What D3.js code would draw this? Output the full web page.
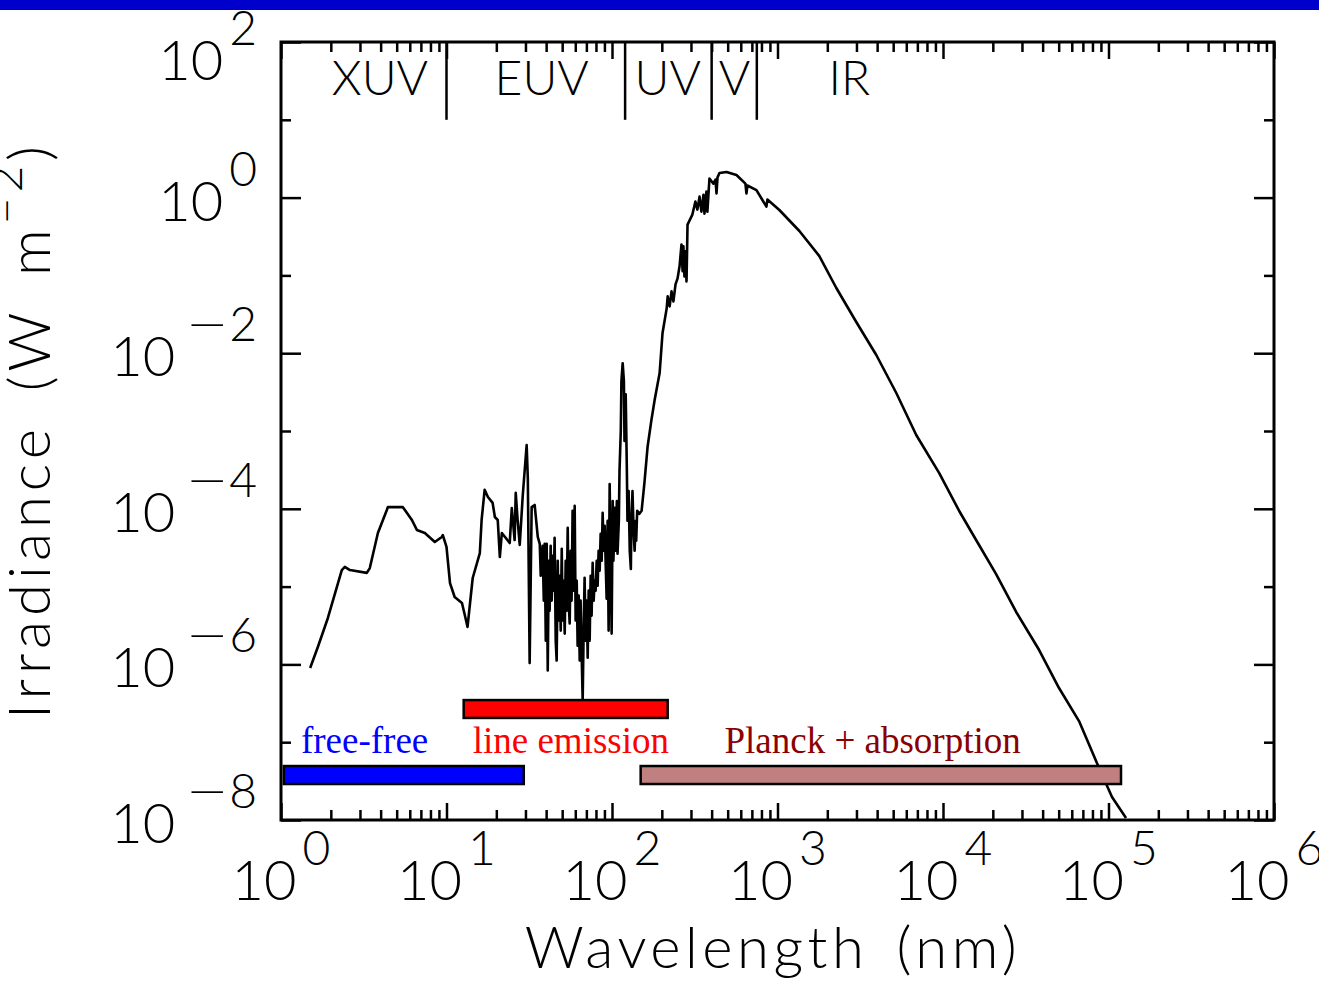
<!DOCTYPE html>
<html><head><meta charset="utf-8">
<script src="https://cdn.jsdelivr.net/npm/d3@7"></script>
<style>body{margin:0;background:#fff;} svg{display:block;}</style>
</head><body><svg id="c" width="1319" height="983"></svg>
<script>
// ---- data (wavelength in nm, irradiance in W m^-2) ----
const wavelength = [
  1.50,1.67,1.92,2.33,2.43,2.61,3.30,3.44,3.85,4.36,4.42,5.45,6.18,6.62,7.40,8.50,9.37,9.50,10.0,10.5,
  11.2,12.4,12.9,13.4,14.0,14.4,15.9,16.3,17.0,17.8,19.0,19.6,20.4,21.0,21.6,24.1,24.8,25.8,26.2,26.9,
  27.7,28.9,30.5,31.0,31.8,32.7,34.1,35.6,
  36.6,37.1,38.1,38.7,39.2,39.8,40.3,40.9,41.5,42.0,42.6,43.2,43.8,44.4,45.0,45.7,46.3,47.0,47.6,48.3,
  49.0,49.7,50.3,51.0,51.8,52.5,53.2,54.0,54.7,55.5,56.3,57.0,57.8,58.7,59.5,60.3,61.2,62.0,62.9,63.8,
  64.6,65.5,66.5,67.4,68.3,69.3,70.3,71.3,72.3,73.3,74.3,75.3,76.4,77.5,78.5,79.6,80.8,81.9,83.0,84.2,
  85.4,86.6,87.8,89.0,90.3,91.5,92.8,94.1,95.4,96.8,98.1,99.5,101,102,104,105,107,108,110,111,
  113,114,116,118,119,121,123,124,126,128,130,131,133,135,137,139,140,142,146,151,
  157,164,173,181,194,202,214,217,223,229,235,242,249,256,263,267,270,274,278,282,
  286,306,319,328,338,347,357,362,372,377,388,410,422,428,434,446,492,565,640,649,
  658,746,857,869,1026,1356,1790,2267,2992,3953,5222,6890,9490,12530,15850,20940,27670,38100,50240,66370,
  87700,105000,127600];
const irradiance = [
  9.0e-7,1.67e-6,3.95e-6,1.63e-5,1.79e-5,1.63e-5,1.50e-5,1.73e-5,4.89e-5,9.66e-5,1.05e-4,1.05e-4,7.18e-5,5.35e-5,4.89e-5,3.74e-5,4.35e-5,4.60e-5,3.23e-5,1.11e-5,
  7.35e-6,6.15e-6,4.31e-6,3.03e-6,7.35e-6,1.29e-5,2.70e-5,7.18e-5,1.75e-4,1.42e-4,1.19e-4,7.85e-5,7.18e-5,2.40e-5,4.89e-5,3.63e-5,1.02e-4,3.97e-5,1.60e-4,7.18e-5,
  3.43e-5,1.50e-4,6.61e-4,2.49e-4,1.04e-6,1.05e-4,1.12e-4,4.35e-5,
  3.55e-5,1.38e-5,3.35e-5,6.61e-6,3.55e-5,2.02e-6,3.55e-5,8.37e-7,2.15e-5,4.91e-6,3.35e-5,6.61e-6,2.49e-5,8.88e-6,4.24e-5,2.02e-6,1.12e-6,2.15e-5,3.66e-6,1.38e-5,
  2.72e-6,3.06e-5,3.66e-6,1.19e-5,2.49e-6,2.15e-5,4.91e-6,5.70e-5,6.61e-6,3.35e-6,2.89e-5,6.61e-6,9.43e-5,8.88e-6,1.09e-4,3.66e-6,1.19e-5,1.74e-6,7.66e-6,1.12e-6,
  6.61e-6,1.50e-6,3.45e-7,2.72e-6,1.30e-5,2.02e-6,6.61e-6,1.22e-6,8.88e-6,2.02e-6,1.38e-5,4.24e-6,2.02e-5,6.61e-6,1.19e-5,8.88e-6,2.15e-5,1.03e-5,2.89e-5,1.60e-5,
  4.77e-5,2.15e-5,8.88e-5,2.89e-5,6.05e-5,2.15e-5,7.01e-6,7.01e-5,2.72e-6,2.08e-4,2.15e-5,2.49e-6,1.26e-4,2.15e-5,1.03e-4,2.89e-5,1.26e-4,2.64e-5,7.01e-5,3.06e-4,
  1.0e-3,4.37e-3,7.44e-3,4.37e-3,7.44e-4,2.97e-3,3.06e-4,7.01e-5,1.69e-4,2.89e-5,1.69e-5,7.01e-5,1.69e-4,5.21e-5,2.89e-5,7.01e-5,3.88e-5,9.43e-5,8.62e-5,9.43e-5,
  2.15e-4,6.22e-4,1.38e-3,2.50e-3,5.57e-3,1.82e-2,3.77e-2,5.37e-2,4.00e-2,6.23e-2,4.63e-2,7.66e-2,9.15e-2,0.131,0.250,0.113,0.236,9.71e-2,0.204,8.37e-2,
  0.450,0.605,0.888,0.701,1.03,0.661,1.09,0.623,1.20,0.661,1.76,1.51,1.70,1.13,1.82,2.07,2.13,1.95,1.51,1.13,
  1.43,1.25,0.766,0.943,0.693,0.372,0.177,6.89e-2,2.52e-2,9.48e-3,3.08e-3,8.89e-4,2.88e-4,9.37e-5,3.97e-5,1.45e-5,4.72e-6,1.53e-6,4.97e-7,1.87e-7,
  4.66e-8,1.98e-8,1.06e-8];

const xMajorExps = [0,1,2,3,4,5,6];
const yMajorExps = [2,0,-2,-4,-6,-8];
const yMinorExps = [1,-1,-3,-5,-7];

const regionBounds = [10,120,400,750];
const regionLabels = ["XUV","EUV","UV","V","IR"];
const regionLabelAt = [3.96,37.6,217,549,2716];

const bandNames = ["free-free","line emission","Planck + absorption"];
const bandStart = [1.04,12.7,149];
const bandEnd = [29.3,217,1.19e5];
const bandTop = [4.94e-8,3.48e-7,4.94e-8];
const bandBottom = [2.90e-8,2.05e-7,2.90e-8];
const bandLabelAt = [1.32,14.4,478];
const bandLabelLevel = [7.26e-8,7.26e-8,7.26e-8];
const bandFill = ["#0000ff","#ff0000","#c08080"];
const bandTextColor = ["#0000ff","#ff0000","#8b0000"];

// ---- drawing ----
const svg = d3.select("#c");
const L=281,R=1274,T=42,B=820;
const x = d3.scaleLog().domain([1,1e6]).range([L,R]);
const y = d3.scaleLog().domain([1e-8,1e2]).range([B,T]);
const FONT = "Lato, 'DejaVu Sans', sans-serif";

svg.append("rect").attr("x",0).attr("y",0).attr("width",1319).attr("height",10).attr("fill","#0000cc");

const xMinor = [];
for (let d=0; d<6; d++) for (let k=2;k<=9;k++) xMinor.push(k*Math.pow(10,d));
const xMajor = xMajorExps.map(e=>Math.pow(10,e));
const yMajor = yMajorExps.map(e=>Math.pow(10,e));
const yMinor = yMinorExps.map(e=>Math.pow(10,e));

function styleAxis(g){ g.select(".domain").remove(); g.selectAll("line").attr("stroke","#000").attr("stroke-width",2.5); g.selectAll("text").remove(); }
svg.append("g").attr("transform",`translate(0,${B})`).call(d3.axisBottom(x).tickValues(xMinor).tickSize(-10).tickFormat("")).call(styleAxis);
svg.append("g").attr("transform",`translate(0,${B})`).call(d3.axisBottom(x).tickValues(xMajor).tickSize(-17).tickFormat("")).call(styleAxis);
svg.append("g").attr("transform",`translate(0,${T})`).call(d3.axisTop(x).tickValues(xMinor).tickSize(-10).tickFormat("")).call(styleAxis);
svg.append("g").attr("transform",`translate(0,${T})`).call(d3.axisTop(x).tickValues(xMajor).tickSize(-17).tickFormat("")).call(styleAxis);
svg.append("g").attr("transform",`translate(${L},0)`).call(d3.axisLeft(y).tickValues(yMajor).tickSize(-20).tickFormat("")).call(styleAxis);
svg.append("g").attr("transform",`translate(${L},0)`).call(d3.axisLeft(y).tickValues(yMinor).tickSize(-10).tickFormat("")).call(styleAxis);
svg.append("g").attr("transform",`translate(${R},0)`).call(d3.axisRight(y).tickValues(yMajor).tickSize(-20).tickFormat("")).call(styleAxis);
svg.append("g").attr("transform",`translate(${R},0)`).call(d3.axisRight(y).tickValues(yMinor).tickSize(-10).tickFormat("")).call(styleAxis);

// region boundaries and names
svg.selectAll(".rb").data(regionBounds).enter().append("line")
  .attr("x1",d=>x(d)).attr("x2",d=>x(d)).attr("y1",y(1e2)).attr("y2",y(1e1))
  .attr("stroke","#000").attr("stroke-width",2.5);
svg.selectAll(".rl").data(regionLabels).enter().append("text")
  .attr("x",(d,i)=>x(regionLabelAt[i])).attr("y",95).attr("text-anchor","middle")
  .attr("font-family",FONT).attr("font-weight",300).attr("font-size",48).text(d=>d);

// spectrum line
const pts = wavelength.map((w,i)=>[w,irradiance[i]]);
svg.append("defs").append("clipPath").attr("id","clip").append("rect").attr("x",L).attr("y",T).attr("width",R-L).attr("height",B-T);
svg.append("path").datum(pts).attr("clip-path","url(#clip)")
  .attr("d",d3.line().x(d=>x(d[0])).y(d=>y(d[1])))
  .attr("fill","none").attr("stroke","#000").attr("stroke-width",2.6).attr("stroke-linejoin","round");

// bands
bandNames.forEach((n,i)=>{
  svg.append("rect").attr("x",x(bandStart[i])).attr("y",y(bandTop[i]))
    .attr("width",x(bandEnd[i])-x(bandStart[i])).attr("height",y(bandBottom[i])-y(bandTop[i]))
    .attr("fill",bandFill[i]).attr("stroke","#000").attr("stroke-width",2.5);
  svg.append("text").attr("x",x(bandLabelAt[i])).attr("y",y(bandLabelLevel[i]))
    .attr("font-family","'Liberation Serif','Times New Roman',serif").attr("font-size",37)
    .attr("fill",bandTextColor[i]).text(n);
});

// frame
svg.append("rect").attr("x",L).attr("y",T).attr("width",R-L).attr("height",B-T)
  .attr("fill","none").attr("stroke","#000").attr("stroke-width",3);

// tick labels
function supLabel(g, exp){
  g.append("tspan").text("10");
  if (exp < 0) {
    g.append("tspan").attr("dy",-35).attr("dx",10).attr("font-size",48)
      .attr("textLength",44).attr("lengthAdjust","spacingAndGlyphs").text("\u2212");
    g.append("tspan").attr("font-size",48).text(String(-exp));
  } else {
    g.append("tspan").attr("dy",-35).attr("dx",6).attr("font-size",48).text(String(exp));
  }
}
xMajorExps.forEach(e=>{
  const t = svg.append("text").attr("x",x(Math.pow(10,e))).attr("y",900).attr("text-anchor","middle")
    .attr("font-family",FONT).attr("font-weight",300).attr("font-size",56);
  supLabel(t,e);
});
yMajorExps.forEach(e=>{
  const t = svg.append("text").attr("x",257).attr("y",Math.max(y(Math.pow(10,e))+23,80)).attr("text-anchor","end")
    .attr("font-family",FONT).attr("font-weight",300).attr("font-size",56);
  supLabel(t,e);
});

// axis titles
svg.append("text").attr("x",773).attr("y",968).attr("text-anchor","middle")
  .attr("font-family",FONT).attr("font-weight",300).attr("font-size",58).attr("letter-spacing",4.5).attr("word-spacing",8)
  .text("Wavelength (nm)");
const yt = svg.append("text").attr("transform","translate(50,430) rotate(-90)").attr("text-anchor","middle")
  .attr("font-family",FONT).attr("font-weight",300).attr("font-size",58).attr("letter-spacing",5).attr("word-spacing",12);
yt.append("tspan").text("Irradiance (W m");
yt.append("tspan").attr("dy",-28).attr("font-size",46).text("\u22122");
yt.append("tspan").attr("dy",28).text(")");
</script></body></html>
